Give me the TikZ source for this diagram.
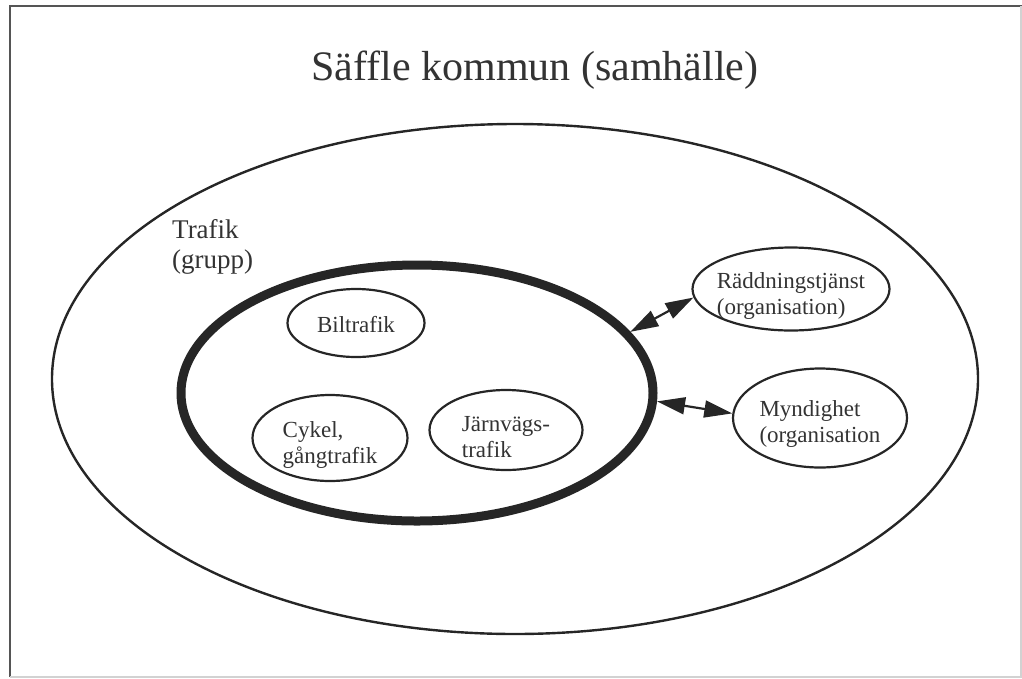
\documentclass[tikz,border=0pt]{standalone}
\usepackage{fontspec}
\setmainfont{Liberation Serif}
\usetikzlibrary{arrows.meta,shapes.geometric}
\definecolor{ink}{HTML}{262626}
\definecolor{txt}{HTML}{333333}
\definecolor{frameA}{HTML}{555555}
\definecolor{frameB}{HTML}{D2D2D2}
\tikzset{
  subset/.style={ellipse, draw=ink, line width=2.2pt, inner sep=0pt},
  lbl/.style={text=txt, font=\fontsize{23}{26}\selectfont, align=left, inner sep=0pt},
  dblarrow/.style={draw=ink, fill=ink, line width=2.2pt,
    {Triangle[length=28pt,width=17pt]}-{Triangle[length=28pt,width=17pt]}},
}
\begin{document}
\begin{tikzpicture}[x=1pt,y=-1pt]
\useasboundingbox (0,0) rectangle (1022,678);
% frame
\draw[frameA, line width=2pt] (10,677) -- (10,6) -- (1022,6);
\draw[frameB, line width=1.5pt] (10,677) -- (1021,677) -- (1021,6);
% title
\node[anchor=base, text=txt, font=\fontsize{42}{48}\selectfont] (title) at (535,80) {Säffle kommun (samhälle)};
% outer ellipse (community)
\node[ellipse, draw=ink, line width=2.4pt, minimum width=926pt, minimum height=510pt, inner sep=0pt] (samh) at (515,379) {};
% group label
\node[anchor=north west, inner sep=0pt, align=left, text=txt, font=\fontsize{27}{30}\selectfont] (grupp) at (172,219) {Trafik\\(grupp)};
% thick traffic ellipse
\node[ellipse, draw=ink, line width=9pt, minimum width=472pt, minimum height=256pt, inner sep=0pt] (trafik) at (417,393) {};
% subgroups
\node[subset, minimum width=137pt, minimum height=68pt,
  label={[lbl, yshift=-2pt]center:Biltrafik}] (bil) at (356,323) {};
\node[subset, minimum width=155pt, minimum height=86pt,
  label={[lbl, yshift=-7pt]center:Cykel,\\gångtrafik}] (cyk) at (330,438) {};
\node[subset, minimum width=153pt, minimum height=80pt,
  label={[lbl, yshift=-7pt]center:Järnvägs-\\trafik}] (jarn) at (506,430) {};
% organisations
\node[subset, minimum width=197pt, minimum height=83pt,
  label={[lbl, yshift=-7pt]center:Räddningstjänst\\(organisation)}] (radd) at (791,289) {};
\node[subset, minimum width=174pt, minimum height=99pt,
  label={[lbl, yshift=-6pt]center:Myndighet\\(organisation}] (mynd) at (820,418) {};
% connectors
\draw[dblarrow] (trafik.16) -- (radd.185);
\draw[dblarrow] (trafik.-2) -- (mynd.177);
\end{tikzpicture}
\end{document}
